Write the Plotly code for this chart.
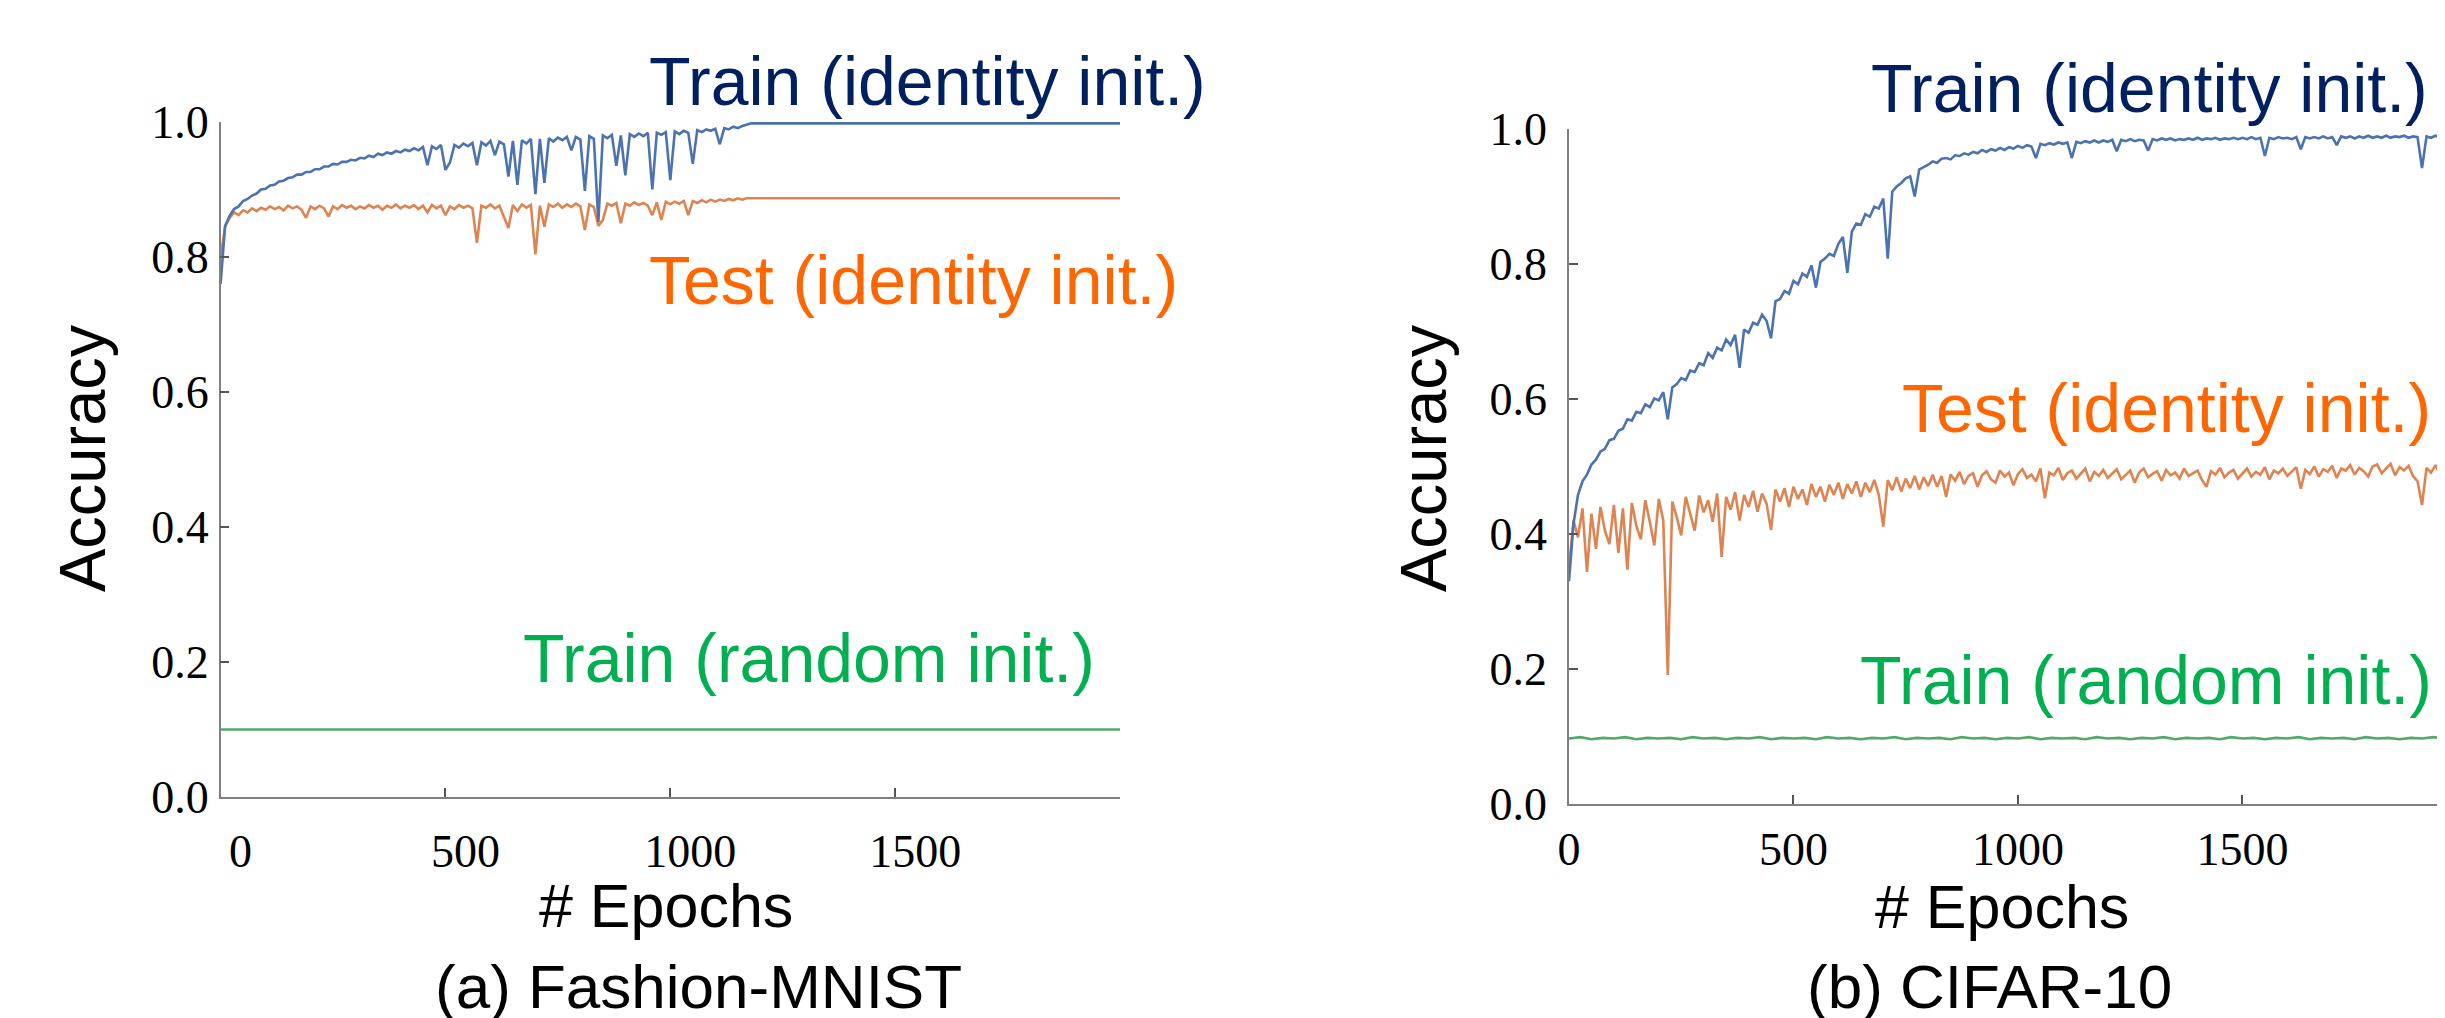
import plotly.graph_objects as go

# ---------------- data: (a) Fashion-MNIST ----------------
fm_epochs = list(range(0, 1190, 10)) + [2000]
fm_train_identity = [
    0.760, 0.846, 0.861, 0.871, 0.875, 0.883, 0.886, 0.891, 0.894, 0.900,
    0.901, 0.906, 0.907, 0.912, 0.913, 0.917, 0.918, 0.922, 0.922, 0.926,
    0.926, 0.930, 0.930, 0.934, 0.934, 0.938, 0.937, 0.941, 0.941, 0.944,
    0.943, 0.947, 0.946, 0.950, 0.948, 0.953, 0.951, 0.955, 0.953, 0.957,
    0.955, 0.959, 0.957, 0.961, 0.958, 0.963, 0.936, 0.964, 0.960, 0.966,
    0.929, 0.940, 0.966, 0.962, 0.968, 0.964, 0.969, 0.936, 0.970, 0.965,
    0.972, 0.951, 0.971, 0.967, 0.919, 0.972, 0.907, 0.973, 0.968, 0.975,
    0.893, 0.975, 0.910, 0.976, 0.971, 0.977, 0.973, 0.978, 0.958, 0.978,
    0.974, 0.898, 0.979, 0.975, 0.852, 0.980, 0.976, 0.981, 0.935, 0.980,
    0.921, 0.982, 0.978, 0.983, 0.979, 0.984, 0.900, 0.984, 0.981, 0.985,
    0.914, 0.986, 0.982, 0.987, 0.984, 0.938, 0.988, 0.985, 0.989, 0.987,
    0.990, 0.967, 0.991, 0.989, 0.993, 0.991, 0.994, 0.996, 0.998, 0.998,
]
fm_test_identity = [
    0.800, 0.845, 0.858, 0.866, 0.862, 0.869, 0.866, 0.872, 0.868, 0.873,
    0.870, 0.875, 0.871, 0.874, 0.869, 0.876, 0.872, 0.875, 0.870, 0.858,
    0.875, 0.871, 0.876, 0.872, 0.860, 0.875, 0.871, 0.877, 0.873, 0.876,
    0.871, 0.875, 0.872, 0.877, 0.873, 0.876, 0.870, 0.876, 0.873, 0.878,
    0.872, 0.876, 0.873, 0.877, 0.871, 0.876, 0.866, 0.877, 0.872, 0.876,
    0.862, 0.875, 0.871, 0.877, 0.873, 0.876, 0.872, 0.821, 0.876, 0.873,
    0.878, 0.872, 0.876, 0.860, 0.843, 0.877, 0.868, 0.878, 0.873, 0.877,
    0.804, 0.876, 0.845, 0.878, 0.874, 0.879, 0.873, 0.878, 0.874, 0.879,
    0.875, 0.840, 0.878, 0.874, 0.846, 0.855, 0.879, 0.876, 0.880, 0.850,
    0.879, 0.876, 0.881, 0.877, 0.880, 0.876, 0.862, 0.881, 0.855, 0.882,
    0.878, 0.882, 0.879, 0.883, 0.862, 0.883, 0.880, 0.884, 0.881, 0.885,
    0.882, 0.885, 0.883, 0.886, 0.884, 0.887, 0.885, 0.887, 0.887, 0.887,
]
fm_random_epochs = [0, 2000]
fm_train_random = [0.100, 0.100]

# ---------------- data: (b) CIFAR-10 ----------------
cf_train_identity = [
    0.330, 0.415, 0.458, 0.478, 0.488, 0.503, 0.510, 0.522, 0.526, 0.539,
    0.541, 0.553, 0.556, 0.570, 0.568, 0.581, 0.579, 0.592, 0.588, 0.601,
    0.598, 0.610, 0.570, 0.617, 0.622, 0.631, 0.628, 0.642, 0.640, 0.653,
    0.650, 0.668, 0.661, 0.676, 0.672, 0.688, 0.680, 0.695, 0.646, 0.703,
    0.698, 0.713, 0.710, 0.725, 0.716, 0.690, 0.745, 0.748, 0.760, 0.756,
    0.775, 0.770, 0.786, 0.781, 0.798, 0.765, 0.803, 0.808, 0.815, 0.812,
    0.830, 0.840, 0.787, 0.848, 0.860, 0.858, 0.874, 0.870, 0.885, 0.882,
    0.897, 0.808, 0.907, 0.915, 0.920, 0.927, 0.930, 0.900, 0.940, 0.943,
    0.947, 0.952, 0.950, 0.956, 0.957, 0.955, 0.961, 0.960, 0.964, 0.962,
    0.966, 0.964, 0.969, 0.966, 0.970, 0.968, 0.972, 0.969, 0.973, 0.971,
    0.975, 0.972, 0.976, 0.974, 0.957, 0.978, 0.976, 0.979, 0.977, 0.980,
    0.978, 0.980, 0.957, 0.981, 0.979, 0.982, 0.980, 0.983, 0.980, 0.983,
    0.981, 0.984, 0.967, 0.984, 0.982, 0.985, 0.982, 0.984, 0.983, 0.968,
    0.985, 0.983, 0.986, 0.984, 0.986, 0.983, 0.985, 0.984, 0.986, 0.984,
    0.987, 0.984, 0.986, 0.985, 0.987, 0.984, 0.986, 0.985, 0.987, 0.985,
    0.987, 0.985, 0.988, 0.985, 0.987, 0.960, 0.987, 0.985, 0.988, 0.986,
    0.987, 0.985, 0.988, 0.970, 0.988, 0.986, 0.988, 0.986, 0.989, 0.986,
    0.988, 0.976, 0.989, 0.987, 0.989, 0.986, 0.989, 0.987, 0.990, 0.987,
    0.989, 0.987, 0.990, 0.987, 0.989, 0.988, 0.990, 0.987, 0.989, 0.988,
    0.942, 0.989, 0.987, 0.990, 0.988, 0.989, 0.988,
]
cf_test_identity = [
    0.350, 0.420, 0.395, 0.438, 0.344, 0.430, 0.378, 0.440, 0.405, 0.385,
    0.443, 0.372, 0.438, 0.347, 0.446, 0.412, 0.392, 0.450, 0.418, 0.383,
    0.452, 0.420, 0.191, 0.448, 0.425, 0.398, 0.455, 0.428, 0.405, 0.457,
    0.432, 0.450, 0.418, 0.460, 0.366, 0.455, 0.436, 0.462, 0.420, 0.458,
    0.440, 0.464, 0.433, 0.460, 0.445, 0.406, 0.466, 0.448, 0.468, 0.440,
    0.470, 0.452, 0.466, 0.443, 0.474, 0.455, 0.470, 0.448, 0.473, 0.458,
    0.476, 0.452, 0.474, 0.460, 0.478, 0.455, 0.476, 0.462, 0.480, 0.458,
    0.411, 0.480, 0.465, 0.484, 0.463, 0.482, 0.468, 0.486, 0.466, 0.484,
    0.471, 0.488, 0.470, 0.486, 0.455, 0.488, 0.479, 0.492, 0.474, 0.486,
    0.490, 0.470, 0.487, 0.493, 0.481, 0.476, 0.494, 0.485, 0.491, 0.472,
    0.489, 0.496, 0.483, 0.488, 0.478, 0.497, 0.453, 0.491, 0.487, 0.498,
    0.480, 0.490, 0.494, 0.482, 0.489, 0.497, 0.478, 0.492, 0.486, 0.495,
    0.483, 0.490, 0.496, 0.481, 0.488, 0.494, 0.476, 0.491, 0.497, 0.484,
    0.489, 0.493, 0.479, 0.495, 0.487, 0.491, 0.482, 0.497, 0.486, 0.490,
    0.494, 0.480, 0.470, 0.493, 0.488, 0.498, 0.484, 0.491, 0.495, 0.482,
    0.490, 0.497, 0.485, 0.492, 0.488, 0.499, 0.481, 0.494, 0.490, 0.497,
    0.486, 0.493, 0.499, 0.467, 0.495, 0.489, 0.500, 0.485, 0.496, 0.492,
    0.501, 0.483, 0.497, 0.494, 0.502, 0.488, 0.498, 0.493, 0.485, 0.500,
    0.503, 0.490, 0.497, 0.504, 0.487, 0.499, 0.494, 0.501, 0.486, 0.478,
    0.443, 0.498, 0.491, 0.502, 0.488, 0.497, 0.493,
]
cf_train_epochs = list(range(0, 10 * len(cf_train_identity), 10))
cf_test_epochs = list(range(0, 10 * len(cf_test_identity), 10))
cf_train_random = [
    0.097, 0.099, 0.096, 0.098, 0.097, 0.099, 0.096, 0.098, 0.097, 0.098,
    0.096, 0.099, 0.097, 0.098, 0.096, 0.098, 0.097, 0.099, 0.096, 0.098,
    0.097, 0.098, 0.096, 0.099, 0.097, 0.098, 0.096, 0.098, 0.097, 0.099,
    0.096, 0.098, 0.097, 0.098, 0.096, 0.099, 0.097, 0.098, 0.096, 0.098,
    0.097, 0.099, 0.096, 0.098, 0.097, 0.098, 0.096, 0.099, 0.097, 0.098,
    0.096, 0.098, 0.097, 0.099, 0.096, 0.098, 0.097, 0.098, 0.096, 0.099,
    0.097, 0.098, 0.096, 0.098, 0.097, 0.099, 0.096, 0.098, 0.097, 0.098,
    0.096, 0.099, 0.097, 0.098, 0.096, 0.098, 0.097, 0.099, 0.097, 0.098,
]
cf_random_epochs = list(range(0, 25 * len(cf_train_random), 25))

y_ticks = [0.0, 0.2, 0.4, 0.6, 0.8, 1.0]
y_ticktext = ["0.0", "0.2", "0.4", "0.6", "0.8", "1.0"]
x_ticks = [0, 500, 1000, 1500, 2000]
x_ticktext = ["0", "500", "1000", "1500", ""]

# ---------------- figure ----------------
W, H = 2445, 1018
OFF = 8  # page body margin of the html page
BLUE, ORANGE, GREEN = "#4c72b0", "#dd8452", "#55a868"
SANS = "Liberation Sans, Arial, sans-serif"
SERIF = "Liberation Serif, Times New Roman, serif"


def px(x):
    return (x - OFF) / W


def py(y):
    return (H - (y - OFF)) / H


fig = go.Figure()
lw = 2.6
fig.add_trace(go.Scatter(x=fm_random_epochs, y=fm_train_random, mode="lines",
                         line=dict(color=GREEN, width=lw), xaxis="x", yaxis="y"))
fig.add_trace(go.Scatter(x=fm_epochs, y=fm_test_identity, mode="lines",
                         line=dict(color=ORANGE, width=lw), xaxis="x", yaxis="y"))
fig.add_trace(go.Scatter(x=fm_epochs, y=fm_train_identity, mode="lines",
                         line=dict(color=BLUE, width=lw), xaxis="x", yaxis="y"))
fig.add_trace(go.Scatter(x=cf_random_epochs, y=cf_train_random, mode="lines",
                         line=dict(color=GREEN, width=lw), xaxis="x2", yaxis="y2"))
fig.add_trace(go.Scatter(x=cf_test_epochs, y=cf_test_identity, mode="lines",
                         line=dict(color=ORANGE, width=lw), xaxis="x2", yaxis="y2"))
fig.add_trace(go.Scatter(x=cf_train_epochs, y=cf_train_identity, mode="lines",
                         line=dict(color=BLUE, width=lw), xaxis="x2", yaxis="y2"))

xcommon = dict(showline=True, linecolor="#808080", linewidth=1.5, ticks="inside",
               ticklen=9, tickwidth=1.5, tickcolor="#555555", showgrid=False,
               zeroline=False, tickvals=x_ticks, ticktext=x_ticktext, automargin=False,
               tickfont=dict(family=SERIF, size=46, color="black"))
ycommon = dict(showline=True, linecolor="#808080", linewidth=1.5, ticks="inside",
               ticklen=9, tickwidth=1.5, tickcolor="#555555", showgrid=False,
               zeroline=False, tickvals=y_ticks, ticktext=y_ticktext, range=[0, 1],
               automargin=False,
               tickfont=dict(family=SERIF, size=46, color="black"))

fig.update_layout(
    width=W, height=H, margin=dict(l=0, r=0, t=0, b=0, autoexpand=False),
    paper_bgcolor="white", plot_bgcolor="white", showlegend=False,
    xaxis=dict(domain=[px(220.6), px(1120)], range=[0, 2000], anchor="y",
               ticklabelshift=20, ticklabelstandoff=13, **xcommon),
    yaxis=dict(domain=[py(797), py(122)], anchor="x", ticklabelstandoff=1, **ycommon),
    xaxis2=dict(domain=[px(1569), 1.0], range=[0, 1969], anchor="y2",
                ticklabelshift=0, ticklabelstandoff=4, **xcommon),
    yaxis2=dict(domain=[py(804), py(129)], anchor="x2", ticklabelstandoff=11, **ycommon),
)

anns = [
    ("Train (identity init.)", 647, 81, "#002060"),
    ("Test (identity init.)", 647, 280, "#ff6600"),
    ("Train (random init.)", 520.6, 658, "#00b050"),
    ("Train (identity init.)", 1869, 88, "#002060"),
    ("Test (identity init.)", 1900, 408, "#ff6600"),
    ("Train (random init.)", 1858, 680, "#00b050"),
]
for text, x, y, color in anns:
    fig.add_annotation(text=text, x=px(x), y=py(y), xref="paper", yref="paper",
                       xanchor="left", yanchor="middle", showarrow=False,
                       font=dict(family=SANS, size=68, color=color))

labels = [
    ("Accuracy", 82, 458, -90, 65),
    ("Accuracy", 1423, 458, -90, 65),
    ("# Epochs", 666, 906, 0, 61),
    ("# Epochs", 2002, 907, 0, 61),
    ("(a) Fashion-MNIST", 698, 986, 0, 62),
    ("(b) CIFAR-10", 1989, 986, 0, 62),
]
for text, x, y, ang, size in labels:
    fig.add_annotation(text=text, x=px(x), y=py(y), xref="paper", yref="paper",
                       xanchor="center", yanchor="middle", showarrow=False,
                       textangle=ang, font=dict(family=SANS, size=size, color="black"))

fig.write_html("out.html")
